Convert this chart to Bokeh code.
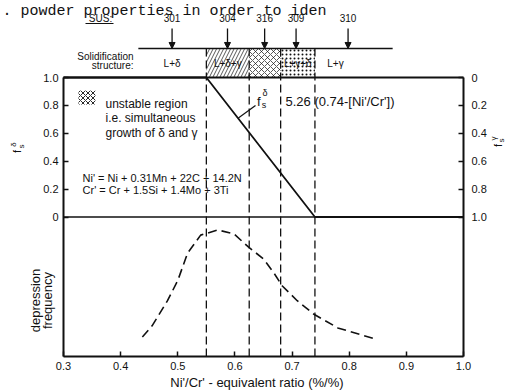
from math import pi
from bokeh.plotting import figure
from bokeh.models import (Range1d, LinearAxis, FixedTicker, Label, Arrow, NormalHead,
                          CustomJSTickFormatter)
from bokeh.core.properties import value
from bokeh.embed import file_html
from bokeh.resources import INLINE

# ---------------- data ----------------
header_text = ". powder properties in order to iden"
x_tick_values = [0.3, 0.4, 0.5, 0.6, 0.7, 0.8, 0.9, 1.0]
f_tick_values = [0.0, 0.2, 0.4, 0.6, 0.8, 1.0]

# delta-ferrite fraction f_s^delta = 5.26 (0.74 - Ni'/Cr')
delta_ratio = [0.3, 0.55, 0.74, 1.0]
delta_fraction = [1.0, 1.0, 0.0, 0.0]

# boundaries of solidification modes
boundary_ratio = [0.55, 0.625, 0.68, 0.74]

# depression frequency (relative)
freq_ratio = [0.438, 0.455, 0.482, 0.50, 0.517, 0.54, 0.57, 0.598, 0.625,
              0.65, 0.668, 0.683, 0.709, 0.7375, 0.78, 0.846]
freq_value = [0.14, 0.22, 0.40, 0.545, 0.74, 0.87, 0.907, 0.88, 0.78,
              0.70, 0.60, 0.505, 0.40, 0.305, 0.205, 0.125]

# SUS grades
sus_grades = ["301", "304", "316", "309", "310"]
sus_ratio = [0.49, 0.587, 0.652, 0.707, 0.798]

# solidification structure band
zone_start = [0.55, 0.625, 0.68]
zone_end = [0.625, 0.68, 0.74]
zone_hatch = ["/", "x", "."]
zone_hatch_scale = [7, 6, 4]
zone_names = ["L+δ", "L+δ+γ", "L+γ+δ", "L+γ"]
zone_name_ratio = [0.49, 0.5875, 0.71, 0.776]
band_extent = [0.431, 0.876]

# ---------------- figure ----------------
W, H = 509, 392
PX_X = 571.43          # px per unit of ratio
PX_Y = 139.5           # px per unit of fraction
X0 = 0.3 - 63 / PX_X
X1 = X0 + W / PX_X
Y1 = 216.5 / PX_Y
Y0 = -(H - 216.5) / PX_Y
BAND_TOP = 1.208
FONT = "Liberation Sans"
INK = "#111111"

p = figure(width=W, height=H, output_backend="svg", toolbar_location=None,
           x_range=Range1d(X0, X1), y_range=Range1d(Y0, Y1),
           x_axis_type=None, y_axis_type=None,
           min_border_left=0, min_border_right=0, min_border_top=0, min_border_bottom=0)
p.outline_line_color = None
p.background_fill_color = "white"
p.border_fill_color = "white"
p.extra_y_ranges = {"fg": Range1d(start=1.0 - Y0, end=1.0 - Y1),
                    "freq": Range1d(start=1.0 + Y0, end=1.0 + Y1)}

fmt = CustomJSTickFormatter(code="return tick == 0 ? '0' : tick.toFixed(1);")

def style_axis(ax, standoff):
    ax.axis_line_width = 2
    ax.axis_line_color = INK
    ax.major_tick_in = 5
    ax.major_tick_out = 0
    ax.major_tick_line_width = 1.5
    ax.major_tick_line_color = INK
    ax.minor_tick_line_color = None
    ax.major_label_text_font = FONT
    ax.major_label_text_font_size = "11px"
    ax.major_label_text_color = INK
    ax.major_label_standoff = standoff
    ax.formatter = fmt

xa = LinearAxis(ticker=FixedTicker(ticks=x_tick_values), fixed_location=-1.0,
                bounds=(0.3, 1.0))
style_axis(xa, 5)
p.add_layout(xa, "below")

la = LinearAxis(ticker=FixedTicker(ticks=f_tick_values), fixed_location=0.3,
                bounds=(-1.0, 1.0))
style_axis(la, 5)
p.add_layout(la, "left")

ra = LinearAxis(y_range_name="fg", ticker=FixedTicker(ticks=f_tick_values),
                fixed_location=1.0, bounds=(0.0, 2.0))
style_axis(ra, 8)
p.add_layout(ra, "right")

# frame top and zero line
p.line([0.3, 1.0], [1.0, 1.0], line_color=INK, line_width=2)
p.line([0.3, 1.0], [0.0, 0.0], line_color=INK, line_width=1.6)

# structure band
p.quad(left=zone_start, right=zone_end, bottom=1.0, top=BAND_TOP,
       fill_color=None, line_color=None, hatch_pattern=zone_hatch,
       hatch_scale=zone_hatch_scale, hatch_color=INK, hatch_weight=0.7)
p.line(band_extent, [BAND_TOP, BAND_TOP], line_color=INK, line_width=1.6)
p.text(x=zone_name_ratio, y=[1.10] * len(zone_names), text=zone_names,
       text_font=value(FONT), text_font_size="10px", text_align="center",
       text_baseline="middle", text_color=INK)

# boundaries
p.segment(x0=boundary_ratio, y0=-1.0, x1=boundary_ratio, y1=BAND_TOP,
          line_color=INK, line_width=1.3, line_dash="8 4")

# f_s^delta line
p.line(delta_ratio, delta_fraction, line_color=INK, line_width=1.8)

# depression frequency
p.line(freq_ratio, freq_value, y_range_name="freq", line_color=INK,
       line_width=1.6, line_dash="9 5")

# SUS arrows and labels
for r in sus_ratio:
    p.add_layout(Arrow(end=NormalHead(size=6, fill_color=INK, line_color=INK),
                       x_start=r, y_start=1.351, x_end=r, y_end=BAND_TOP,
                       line_color=INK, line_width=1.3))
p.text(x=sus_ratio, y=[1.423] * len(sus_ratio), text=sus_grades,
       text_font=value(FONT), text_font_size="10px", text_align="center",
       text_baseline="middle", text_color=INK)

def lab(x, y, text, size="11px", align="left", baseline="middle", angle=0.0,
        xo=0, yo=0, font=FONT, style="normal"):
    p.add_layout(Label(x=x, y=y, text=text, text_font=font, text_font_size=size,
                       text_align=align, text_baseline=baseline, angle=angle,
                       x_offset=xo, y_offset=yo, text_color=INK,
                       text_font_style=style))

lab(0.3648, 1.423, "SUS:", size="10px", align="center")
p.line([0.3385, 0.3875], [1.387, 1.387], line_color=INK, line_width=1)
lab(0.4225, 1.1505, "Solidification", size="10px", align="right")
lab(0.4225, 1.086, "structure:", size="10px", align="right")

# header fragment of the scanned page
lab(0.1933, 1.473, header_text, size="15px", align="left", baseline="alphabetic",
    font="Liberation Mono")

# legend for unstable region
p.quad(left=[0.3263], right=[0.356], bottom=[0.806], top=[0.907],
       fill_color=None, line_color=None, hatch_pattern="x", hatch_scale=5,
       hatch_color=INK, hatch_weight=0.9)
lab(0.3735, 0.8136, "unstable region", size="12px")
lab(0.3735, 0.713, "i.e. simultaneous", size="12px")
lab(0.3735, 0.6057, "growth of δ and γ", size="12px")

# equivalents
lab(0.3333, 0.276, "Ni' = Ni + 0.31Mn + 22C + 14.2N", size="11px")
lab(0.3333, 0.19, "Cr' = Cr + 1.5Si + 1.4Mo + 3Ti", size="11px")

# f_s^delta label in plot with leader
p.line([0.606, 0.636], [0.71, 0.80], line_color=INK, line_width=1.2)
lab(0.642, 0.828, "f", size="13px", align="center")
lab(0.642, 0.828, "s", size="9px", align="center", xo=5, yo=-4)
lab(0.642, 0.828, "δ", size="9px", align="center", xo=6, yo=8)
lab(0.6885, 0.828, "5.26 (0.74-[Ni'/Cr'])", size="13px")

# axis titles
lab(0.2195, 0.4695, "f", size="11px", align="center", angle=pi / 2)
lab(0.2195, 0.4695, "s", size="8px", align="center", angle=pi / 2, xo=4, yo=5)
lab(0.2195, 0.4695, "δ", size="8px", align="center", angle=pi / 2, xo=-4, yo=7)

lab(1.0595, 0.5125, "f", size="11px", align="center", angle=pi / 2)
lab(1.0595, 0.5125, "s", size="8px", align="center", angle=pi / 2, xo=4, yo=5)
lab(1.0595, 0.5125, "γ", size="8px", align="center", angle=pi / 2, xo=-4, yo=7)

lab(0.251, -0.5986, "depression", size="13px", align="center", angle=pi / 2)
lab(0.272, -0.5986, "frequency", size="13px", align="center", angle=pi / 2)

lab(0.6448, -1.186, "Ni'/Cr' - equivalent  ratio  (%/%)", size="13px", align="center")

open("out.html", "w").write(file_html(p, INLINE))
